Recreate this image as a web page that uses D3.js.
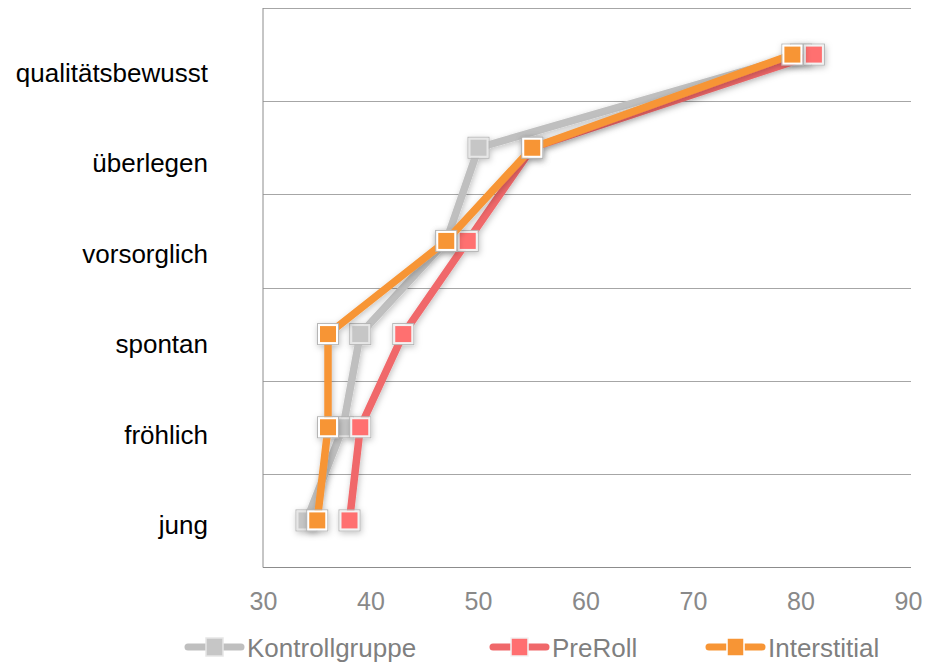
<!DOCTYPE html>
<html>
<head>
<meta charset="utf-8">
<script src="https://cdn.jsdelivr.net/npm/d3@7"></script>
<style>
  body { margin: 0; background: #fff; }
  svg { display: block; font-family: "Liberation Sans", Arial, sans-serif; }
</style>
</head>
<body>
<div id="chart"></div>
<script>
// data
const categories = ["qualitätsbewusst", "überlegen", "vorsorglich", "spontan", "fröhlich", "jung"];
const kontrollgruppe = [80, 50, 47, 39, 37.4, 34];
const preRoll = [81.2, 55, 49, 43, 39, 38];
const interstitial = [79.2, 55, 47, 36, 36, 35];
const xTicks = [30, 40, 50, 60, 70, 80, 90];

const series = [
  {name: "Kontrollgruppe", values: kontrollgruppe, line: "#bfbfbf", fill: "#c6c6c6", border: "#e6e6e6"},
  {name: "PreRoll", values: preRoll, line: "#f0686a", fill: "#ff6f70", border: "#f2f2f2"},
  {name: "Interstitial", values: interstitial, line: "#f79535", fill: "#f79535", border: "#ffffff"}
];

const W = 927, H = 663;
const plotL = 263.5, plotR = 911, plotT = 8, plotB = 567;

const svg = d3.select("#chart").append("svg")
  .attr("width", W).attr("height", H);

const defs = svg.append("defs");
const f = defs.append("filter").attr("id", "shadow")
  .attr("x", "-20%").attr("y", "-20%").attr("width", "140%").attr("height", "140%");
f.append("feDropShadow").attr("dx", 1).attr("dy", 2).attr("stdDeviation", 3)
  .attr("flood-color", "#000").attr("flood-opacity", 0.25);

const x = d3.scaleLinear().domain([30, 90]).range([plotL, plotL + 645]);
const y = d3.scaleBand().domain(categories).range([plotT, plotB]);
// labels sit on their own slightly tighter spacing, as in the original
const yLab = d3.scalePoint().domain(categories).range([73, 525]);

// grid lines at band boundaries (dotted)
const bounds = categories.map(c => y(c));
svg.append("g").selectAll("line").data(bounds).enter().append("line")
  .attr("x1", plotL).attr("x2", plotR)
  .attr("y1", d => Math.round(d) + 0.5).attr("y2", d => Math.round(d) + 0.5)
  .attr("stroke", "#4d4d4d").attr("stroke-width", 1)
  .attr("stroke-dasharray", "1,1");

// axes lines
svg.append("line").attr("x1", plotL - 0.5).attr("x2", plotL - 0.5)
  .attr("y1", plotT).attr("y2", plotB + 0.5).attr("stroke", "#8c8c8c");
svg.append("line").attr("x1", plotL - 0.5).attr("x2", plotR)
  .attr("y1", plotB + 0.5).attr("y2", plotB + 0.5).attr("stroke", "#8c8c8c");

// x tick labels
svg.append("g").selectAll("text").data(xTicks).enter().append("text")
  .attr("x", d => x(d)).attr("y", 610)
  .attr("text-anchor", "middle")
  .attr("font-size", 25).attr("fill", "#898989")
  .text(d => d);

// category labels
svg.append("g").selectAll("text").data(categories).enter().append("text")
  .attr("x", 208).attr("y", d => yLab(d) + 9)
  .attr("text-anchor", "end")
  .attr("font-size", 26).attr("fill", "#000")
  .text(d => d);

const cy = c => y(c) + y.bandwidth() / 2;
const line = d3.line().x(d => x(d.v)).y(d => cy(d.c));

series.forEach(s => {
  const pts = s.values.map((v, i) => ({v: v, c: categories[i]}));
  const g = svg.append("g").attr("filter", "url(#shadow)");
  g.append("path").datum(pts)
    .attr("d", line)
    .attr("fill", "none").attr("stroke", s.line)
    .attr("stroke-width", 7.5).attr("stroke-linejoin", "round");
  const m = g.selectAll("g.m").data(pts).enter().append("g")
    .attr("transform", d => "translate(" + x(d.v) + "," + cy(d.c) + ")");
  m.append("rect").attr("x", -10.5).attr("y", -10.5).attr("width", 21).attr("height", 21)
    .attr("fill", "none").attr("stroke", "#b5b5b5").attr("stroke-width", 1);
  m.append("rect").attr("x", -9).attr("y", -9).attr("width", 18).attr("height", 18)
    .attr("fill", s.fill).attr("stroke", s.border).attr("stroke-width", 2);
});

// legend
const legendX = [185, 490, 706];
const legend = svg.append("g");
series.forEach((s, i) => {
  const lx = legendX[i], ly = 647;
  const g = legend.append("g");
  g.append("line").attr("x1", lx + 3).attr("x2", lx + 56)
    .attr("y1", ly).attr("y2", ly)
    .attr("stroke", s.line).attr("stroke-width", 7).attr("stroke-linecap", "round");
  g.append("rect").attr("x", lx + 21).attr("y", ly - 9).attr("width", 17).attr("height", 18)
    .attr("fill", s.fill).attr("stroke", s.border).attr("stroke-width", 1.5);
  g.append("text").attr("x", lx + 62).attr("y", ly + 10)
    .attr("font-size", 26).attr("fill", "#7f7f7f")
    .text(s.name);
});
</script>
</body>
</html>
